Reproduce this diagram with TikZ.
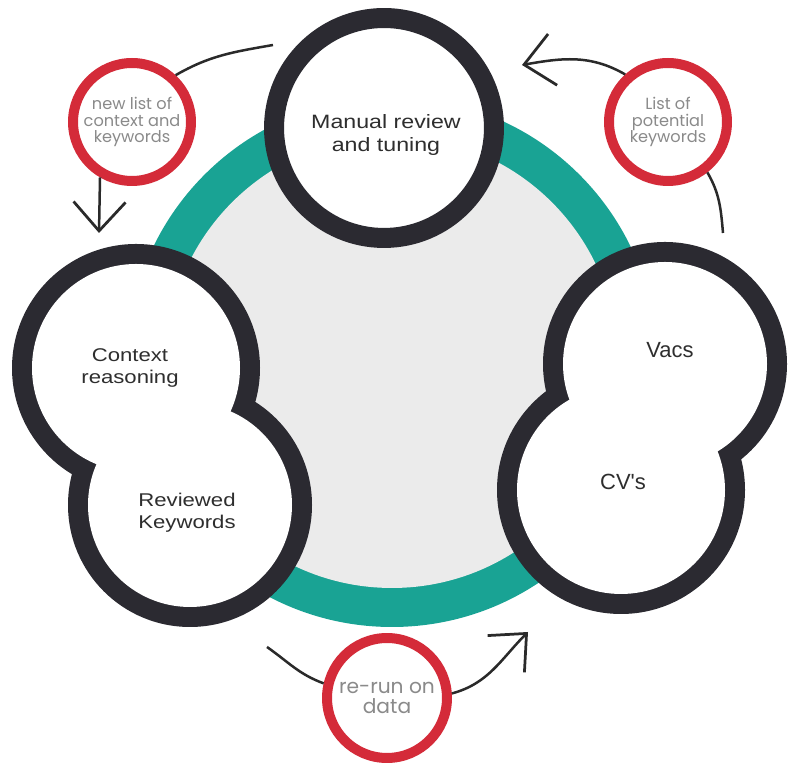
\documentclass[tikz,border=0pt]{standalone}
\usepackage{fontspec}
\usepackage{graphicx}
\setmainfont{Liberation Sans}
\newfontfamily\lblfont{Poppins}
\usetikzlibrary{arrows.meta}
\definecolor{ringdark}{HTML}{2B2A31}
\definecolor{tealring}{HTML}{19A394}
\definecolor{innergray}{HTML}{EBEBEB}
\definecolor{redring}{HTML}{D42B39}
\definecolor{labelgray}{HTML}{8A8A8A}
\definecolor{maintext}{HTML}{2E2E2E}
\definecolor{arrowdark}{HTML}{2A2A2A}
\newcommand{\wideline}[2]{\scalebox{#1}[1]{\begin{tabular}{@{}c@{}}#2\end{tabular}}}
\begin{document}
\begin{tikzpicture}[x=0.02cm,y=0.02cm,
  bigring/.style={circle,draw=ringdark,fill=white,line width=0.4cm,inner sep=0pt},
  redcirc/.style={circle,draw=redring,fill=white,line width=0.2cm,inner sep=0pt,
    align=center,text=labelgray},
  smalllbl/.style={font=\lblfont\fontsize{9.2}{9.5}\selectfont},
  maintxt/.style={align=center,text=maintext,inner sep=0pt},
  flow/.style={draw=arrowdark,line width=0.05cm},
  head/.style={-{Straight Barb[length=0.58cm,width=1.04cm,line width=0.055cm]}}
]
\useasboundingbox (0,0) rectangle (791,766);
\fill[white] (0,0) rectangle (791,766);
% central teal ring
\fill[tealring] (392,404) circle (265);
\fill[innergray] (392,404) circle (226);
% top circle
\node[bigring,minimum size=4.4cm] (topc) at (384,638) {};
\node[maintxt,font=\fontsize{11}{14.2}\selectfont] (toptxt) at (386,631)
  {\wideline{1.2}{Manual review\\[-1.2pt]and tuning}};
% left double circle
\fill[ringdark] (136,398) circle (124) (190,261) circle (122);
\fill[white] (136,398) circle (104) (190,261) circle (102);
\node[maintxt,font=\fontsize{10.5}{12.5}\selectfont] (ctx) at (130,398)
  {\wideline{1.2}{Context\\reasoning}};
\node[maintxt,font=\fontsize{10.5}{12.5}\selectfont] (rev) at (187,253)
  {\wideline{1.2}{Reviewed\\Keywords}};
% right double circle
\fill[ringdark] (665,402) circle (122) (621,276) circle (124);
\fill[white] (665,402) circle (102) (621,276) circle (104);
\node[maintxt,font=\fontsize{12.5}{15}\selectfont] (vacs) at (670,416) {Vacs};
\node[maintxt,font=\fontsize{12.5}{15}\selectfont] (cvs) at (623,284) {CV\textquotesingle s};
% red circles
\node[redcirc,smalllbl,minimum size=2.36cm] (red1) at (132,644) {new list of\\context and\\keywords};
\node[redcirc,smalllbl,minimum size=2.36cm] (red2) at (668,644) {List of\\potential\\keywords};
\node[redcirc,minimum size=2.4cm,font=\lblfont\fontsize{11.5}{11.8}\selectfont] (red3) at (387,68) {re-run on\\data};
% free ends of connectors
\coordinate (c1) at (273,721);
\coordinate (tip1) at (99,533);
\coordinate (c2) at (723,533);
\coordinate (tip2) at (522,701);
\coordinate (c3) at (267,119);
\coordinate (tip3) at (528,134);
% connectors
\draw[flow] (c1) to[out=190,in=30] (red1.47);
\draw[flow,head] (red1.-120) -- (tip1);
\draw[flow] (c2) to[out=95,in=-60] (red2.-52);
\draw[flow,head] (red2.132) to[out=150,in=10] (tip2);
\draw[flow] (c3) to[out=-35,in=160] (red3.167);
\draw[flow,head] (red3.4) to[out=15,in=-135] (tip3);
\end{tikzpicture}
\end{document}
